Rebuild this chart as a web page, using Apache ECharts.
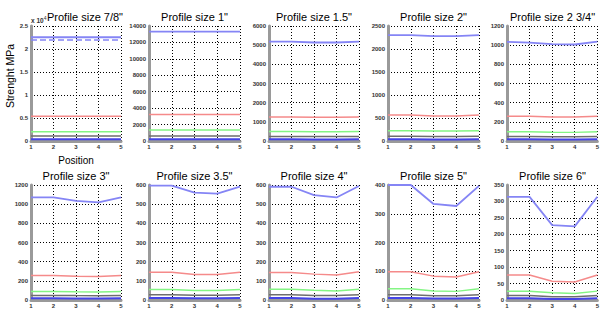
<!DOCTYPE html>
<html><head><meta charset="utf-8">
<script src="https://cdn.jsdelivr.net/npm/echarts@6/dist/echarts.min.js"></script>
<style>html,body{margin:0;padding:0;background:#fff}#c{width:602px;height:312px}</style>
</head><body><div id="c"></div>
<script>
const positions = [1, 2, 3, 4, 5];
const titles = ['Profile size 7/8"', 'Profile size 1"', 'Profile size 1.5"', 'Profile size 2"', 'Profile size 2 3/4"',
                'Profile size 3"', 'Profile size 3.5"', 'Profile size 4"', 'Profile size 5"', 'Profile size 6"'];
const yMax  = [25000, 14000, 6000, 2500, 1200, 1200, 600, 600, 400, 350];
const yStep = [5000, 2000, 1000, 500, 200, 200, 100, 100, 100, 50];

const blueTop = [
  [22550, 22550, 22550, 22550, 22550],
  [13310, 13310, 13310, 13310, 13310],
  [5190, 5180, 5140, 5140, 5180],
  [2300, 2300, 2280, 2280, 2300],
  [1034, 1027, 1010, 1007, 1038],
  [1070, 1070, 1035, 1018, 1070],
  [597, 597, 560, 555, 592],
  [591, 591, 547, 535, 595],
  [400, 400, 334, 327, 397],
  [314, 314, 228, 224, 314]
];
const blueDashed78 = [21960, 21960, 21960, 21960, 21960];
const red = [
  [5370, 5370, 5370, 5370, 5370],
  [3220, 3220, 3220, 3220, 3220],
  [1250, 1250, 1240, 1240, 1250],
  [565, 565, 545, 545, 565],
  [259, 257, 250, 250, 257],
  [256, 256, 248, 246, 256],
  [145, 145, 133, 133, 145],
  [144, 144, 135, 130, 147],
  [98, 98, 83, 80, 98],
  [76, 76, 57, 55, 76]
];
const green = [
  [2020, 2020, 2020, 2020, 2020],
  [1330, 1330, 1330, 1330, 1330],
  [490, 490, 485, 485, 490],
  [225, 225, 220, 220, 225],
  [97, 97, 92, 90, 97],
  [88, 88, 85, 84, 88],
  [55, 55, 50, 50, 55],
  [56, 56, 51, 47, 56],
  [39, 39, 31, 30, 39],
  [27, 27, 22, 20, 27]
];
const gray = [
  [1090, 1090, 1090, 1090, 1090],
  [610, 610, 610, 610, 610],
  [240, 240, 235, 235, 240],
  [105, 105, 100, 100, 105],
  [47, 47, 45, 45, 47],
  [48, 48, 46, 45, 48],
  [27, 27, 25, 25, 27],
  [27, 27, 24, 23, 27],
  [18, 18, 15, 15, 18],
  [14, 14, 10, 10, 14]
];
const blueLow = [
  [370, 370, 370, 370, 370],
  [220, 220, 220, 220, 220],
  [85, 85, 83, 83, 85],
  [37, 37, 35, 35, 37],
  [17, 17, 16, 16, 17],
  [17, 17, 16, 16, 17],
  [10, 10, 9, 9, 10],
  [10, 10, 7, 6, 10],
  [7, 7, 5, 5, 7],
  [5, 5, 3, 3, 5]
];

const colLeft = [31, 149, 269, 388, 507];
const colWidth = [90, 91, 90, 91, 91];
const rowTop = [26, 185];
const plotH = 115;

const FONT = 'Liberation Sans, Arial, sans-serif';
const grids = [], xAxes = [], yAxes = [], series = [], graphics = [];
const pair = arr => arr.map((v, i) => [positions[i], v]);

for (let k = 0; k < 10; k++) {
  const r = Math.floor(k / 5), c = k % 5;
  grids.push({ left: colLeft[c], top: rowTop[r], width: colWidth[c], height: plotH, containLabel: false });
  xAxes.push({
    type: 'value', gridIndex: k, min: 1, max: 5, interval: 1,
    axisLine: { show: true, onZero: false, lineStyle: { color: '#9a9a9a', width: 3 } },
    axisTick: { show: false },
    axisLabel: { fontSize: 6, color: '#333', fontFamily: FONT, margin: 3, fontWeight: 'bold' },
    splitLine: { show: true, lineStyle: { color: '#000', type: [1, 2], width: 1 } },
    name: k === 0 ? 'Position' : '', nameLocation: 'middle', nameGap: 14,
    nameTextStyle: { fontSize: 10, color: '#000', fontFamily: FONT }
  });
  yAxes.push({
    type: 'value', gridIndex: k, min: 0, max: yMax[k], interval: yStep[k],
    axisLine: { show: true, onZero: false, lineStyle: { color: '#9a9a9a', width: 3 } },
    axisTick: { show: false },
    axisLabel: { fontSize: 6, color: '#333', fontFamily: FONT, margin: 3, fontWeight: 'bold',
      formatter: k === 0 ? (v => String(v / 10000)) : (v => String(v)) },
    splitLine: { show: true, lineStyle: { color: '#000', type: [1, 2], width: 1 } }
  });
  const base = { type: 'line', xAxisIndex: k, yAxisIndex: k, showSymbol: false, symbol: 'none', animation: false, silent: true };
  series.push(Object.assign({}, base, { data: pair(blueLow[k]), lineStyle: { color: '#4545e6', width: 2 } }));
  series.push(Object.assign({}, base, { data: pair(gray[k]), lineStyle: { color: '#6e6e6e', width: 1.5 } }));
  series.push(Object.assign({}, base, { data: pair(green[k]), lineStyle: { color: '#84f584', width: 1.5 } }));
  series.push(Object.assign({}, base, { data: pair(red[k]), lineStyle: { color: '#f58a8a', width: 1.5 } }));
  series.push(Object.assign({}, base, { data: pair(blueTop[k]), lineStyle: { color: '#8585f5', width: 1.8 } }));
  if (k === 0) {
    series.push(Object.assign({}, base, { data: pair(blueDashed78), lineStyle: { color: '#8585f5', width: 1.5, type: [6, 3] } }));
  }
  const cx = colLeft[c] + colWidth[c] / 2 + (k === 0 ? 9 : 0);
  graphics.push({ type: 'text', x: cx, y: rowTop[r] - 9, silent: true,
    style: { text: titles[k], font: '11px ' + FONT, fill: '#000', textAlign: 'center', textVerticalAlign: 'middle' } });
}
graphics.push({ type: 'text', x: 10, y: 76, rotation: Math.PI / 2, silent: true,
  style: { text: 'Strenght MPa', font: '10.5px ' + FONT, fill: '#000', textAlign: 'center', textVerticalAlign: 'middle' } });
graphics.push({ type: 'text', x: 31, y: 20, silent: true,
  style: { text: '{a|x 10}{b|4}', fill: '#333', textAlign: 'left', textVerticalAlign: 'middle',
    rich: { a: { fontSize: 6.5, fontFamily: FONT, fontWeight: 'bold', fill: '#333' },
            b: { fontSize: 5, fontFamily: FONT, fill: '#333', verticalAlign: 'top', padding: [0, 0, 4, 0] } } } });

const chart = echarts.init(document.getElementById('c'), null, { renderer: 'svg' });
chart.setOption({
  animation: false,
  backgroundColor: '#fff',
  grid: grids, xAxis: xAxes, yAxis: yAxes, series: series, graphic: graphics
});
</script>
</body></html>
